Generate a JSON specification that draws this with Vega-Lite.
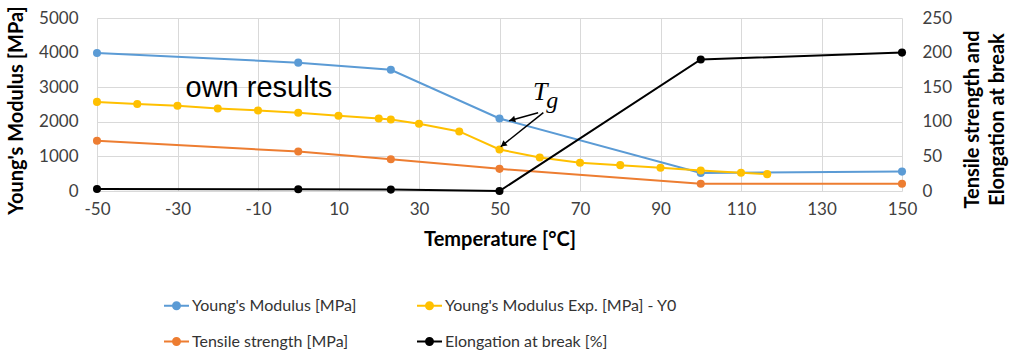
{
  "$schema": "https://vega.github.io/schema/vega-lite/v6.json",
  "width": 805,
  "height": 173,
  "autosize": {"type": "none"},
  "padding": {"left": 97, "top": 18, "right": 107, "bottom": 161},
  "background": "white",
  "config": {
    "font": "Lato",
    "view": {"stroke": null},
    "axis": {
      "labelFont": "Lato",
      "labelFontSize": 17,
      "labelColor": "#404040",
      "labelOverlap": false,
      "labelFlush": false,
      "titleFont": "Lato",
      "titleFontWeight": "bold",
      "titleFontSize": 20,
      "titleColor": "#000000",
      "ticks": false,
      "domain": false,
      "gridColor": "#D9D9D9",
      "gridWidth": 1
    }
  },
  "datasets": {
    "series": [
      {"series": "Young's Modulus [MPa]", "side": "L", "temp": -50, "value": 3990},
      {"series": "Young's Modulus [MPa]", "side": "L", "temp": 0, "value": 3710},
      {"series": "Young's Modulus [MPa]", "side": "L", "temp": 23, "value": 3505},
      {"series": "Young's Modulus [MPa]", "side": "L", "temp": 50, "value": 2095},
      {"series": "Young's Modulus [MPa]", "side": "L", "temp": 100, "value": 520},
      {"series": "Young's Modulus [MPa]", "side": "L", "temp": 150, "value": 560},
      {"series": "Young's Modulus Exp. [MPa] - Y0", "side": "L", "temp": -50, "value": 2575},
      {"series": "Young's Modulus Exp. [MPa] - Y0", "side": "L", "temp": -40, "value": 2512},
      {"series": "Young's Modulus Exp. [MPa] - Y0", "side": "L", "temp": -30, "value": 2464},
      {"series": "Young's Modulus Exp. [MPa] - Y0", "side": "L", "temp": -20, "value": 2387},
      {"series": "Young's Modulus Exp. [MPa] - Y0", "side": "L", "temp": -10, "value": 2329},
      {"series": "Young's Modulus Exp. [MPa] - Y0", "side": "L", "temp": 0, "value": 2261},
      {"series": "Young's Modulus Exp. [MPa] - Y0", "side": "L", "temp": 10, "value": 2175},
      {"series": "Young's Modulus Exp. [MPa] - Y0", "side": "L", "temp": 20, "value": 2097},
      {"series": "Young's Modulus Exp. [MPa] - Y0", "side": "L", "temp": 23, "value": 2068},
      {"series": "Young's Modulus Exp. [MPa] - Y0", "side": "L", "temp": 30, "value": 1943},
      {"series": "Young's Modulus Exp. [MPa] - Y0", "side": "L", "temp": 40, "value": 1721},
      {"series": "Young's Modulus Exp. [MPa] - Y0", "side": "L", "temp": 50, "value": 1200},
      {"series": "Young's Modulus Exp. [MPa] - Y0", "side": "L", "temp": 60, "value": 969},
      {"series": "Young's Modulus Exp. [MPa] - Y0", "side": "L", "temp": 70, "value": 815},
      {"series": "Young's Modulus Exp. [MPa] - Y0", "side": "L", "temp": 80, "value": 747},
      {"series": "Young's Modulus Exp. [MPa] - Y0", "side": "L", "temp": 90, "value": 670},
      {"series": "Young's Modulus Exp. [MPa] - Y0", "side": "L", "temp": 100, "value": 593},
      {"series": "Young's Modulus Exp. [MPa] - Y0", "side": "L", "temp": 110, "value": 526},
      {"series": "Young's Modulus Exp. [MPa] - Y0", "side": "L", "temp": 116.5, "value": 487},
      {"series": "Tensile strength [MPa]", "side": "R", "temp": -50, "value": 72.5},
      {"series": "Tensile strength [MPa]", "side": "R", "temp": 0, "value": 57},
      {"series": "Tensile strength [MPa]", "side": "R", "temp": 23, "value": 46},
      {"series": "Tensile strength [MPa]", "side": "R", "temp": 50, "value": 32},
      {"series": "Tensile strength [MPa]", "side": "R", "temp": 100, "value": 10.5},
      {"series": "Tensile strength [MPa]", "side": "R", "temp": 150, "value": 10.5},
      {"series": "Elongation at break [%]", "side": "R", "temp": -50, "value": 3},
      {"series": "Elongation at break [%]", "side": "R", "temp": 0, "value": 2.5},
      {"series": "Elongation at break [%]", "side": "R", "temp": 23, "value": 2},
      {"series": "Elongation at break [%]", "side": "R", "temp": 50, "value": 0},
      {"series": "Elongation at break [%]", "side": "R", "temp": 100, "value": 190},
      {"series": "Elongation at break [%]", "side": "R", "temp": 150, "value": 200}
    ],
    "arrows": [
      {"id": "a1", "temp": 59.6, "value": 2263, "temp2": 52.4, "value2": 2032},
      {"id": "a2", "temp": 60.9, "value": 2263, "temp2": 50.3, "value2": 1280}
    ],
    "heads": [
      {"id": "a1", "temp": 53.4, "value": 2064},
      {"id": "a2", "temp": 51.1, "value": 1353}
    ],
    "notes": [
      {"id": "own", "text": "own results", "temp": -28, "value": 2720},
      {"id": "T", "text": "T", "temp": 58.3, "value": 2630},
      {"id": "g", "text": "g", "temp": 61.6, "value": 2400}
    ]
  },
  "encoding": {
    "x": {
      "field": "temp", "type": "quantitative",
      "scale": {"domain": [-50, 150], "nice": false, "zero": false},
      "title": "Temperature [°C]",
      "axis": {
        "values": [-50, -30, -10, 10, 30, 50, 70, 90, 110, 130, 150],
        "labelExpr": "'' + datum.value",
        "grid": true,
        "labelPadding": 10,
        "titlePadding": 12
      }
    }
  },
  "layer": [
    {
      "encoding": {
        "y": {
          "field": "value", "type": "quantitative",
          "scale": {"domain": [0, 5000], "nice": false},
          "title": "Young's Modulus [MPa]",
          "axis": {
            "values": [0, 1000, 2000, 3000, 4000, 5000],
            "labelExpr": "'' + datum.value",
            "grid": true,
            "labelPadding": 19,
            "titlePadding": 12,
            "titleY": 92
          }
        }
      },
      "layer": [
        {
          "data": {"name": "series"},
          "transform": [{"filter": "datum.side == 'L'"}],
          "mark": {"type": "line", "strokeWidth": 2, "point": {"filled": true, "size": 65}},
          "encoding": {
            "color": {
              "field": "series", "type": "nominal",
              "scale": {
                "domain": ["Young's Modulus [MPa]", "Young's Modulus Exp. [MPa] - Y0", "Tensile strength [MPa]", "Elongation at break [%]"],
                "range": ["#5B9BD5", "#FFC000", "#ED7D31", "#000000"]
              },
              "legend": {
                "orient": "none",
                "legendX": 66,
                "legendY": 274,
                "columns": 2,
                "direction": "horizontal",
                "title": null,
                "symbolType": "M-1,0H-0.28A0.28,0.28 0 1,1 0.28,0A0.28,0.28 0 1,1 -0.28,0M0.28,0H1",
                "symbolSize": 625,
                "symbolStrokeWidth": 2,
                "labelFont": "Lato",
                "labelFontSize": 16,
                "labelColor": "#333333",
                "labelLimit": 400,
                "labelOffset": 2,
                "columnPadding": 56,
                "rowPadding": 14,
                "encode": {
                  "symbols": {
                    "update": {
                      "fill": {"scale": "color", "field": "value"},
                      "stroke": {"scale": "color", "field": "value"},
                      "opacity": {"value": 1}
                    }
                  }
                }
              }
            }
          }
        },
        {
          "data": {"name": "notes"},
          "transform": [{"filter": "datum.id == 'own'"}],
          "mark": {"type": "text", "font": "Liberation Sans", "fontSize": 29, "align": "left", "baseline": "alphabetic", "color": "#000000"},
          "encoding": {"text": {"field": "text"}}
        },
        {
          "data": {"name": "notes"},
          "transform": [{"filter": "datum.id == 'T'"}],
          "mark": {"type": "text", "font": "Liberation Serif", "fontStyle": "italic", "fontSize": 26, "align": "left", "baseline": "alphabetic", "color": "#000000"},
          "encoding": {"text": {"field": "text"}}
        },
        {
          "data": {"name": "notes"},
          "transform": [{"filter": "datum.id == 'g'"}],
          "mark": {"type": "text", "font": "Liberation Serif", "fontStyle": "italic", "fontSize": 24, "align": "left", "baseline": "alphabetic", "color": "#000000"},
          "encoding": {"text": {"field": "text"}}
        },
        {
          "data": {"name": "arrows"},
          "mark": {"type": "rule", "color": "#000000", "strokeWidth": 1.5},
          "encoding": {
            "x2": {"field": "temp2"},
            "y2": {"field": "value2"}
          }
        },
        {
          "data": {"name": "heads"},
          "transform": [{"filter": "datum.id == 'a1'"}],
          "mark": {"type": "point", "shape": "triangle", "filled": true, "color": "#000000", "size": 45, "angle": 254.6, "opacity": 1}
        },
        {
          "data": {"name": "heads"},
          "transform": [{"filter": "datum.id == 'a2'"}],
          "mark": {"type": "point", "shape": "triangle", "filled": true, "color": "#000000", "size": 45, "angle": 231.4, "opacity": 1}
        }
      ]
    },
    {
      "data": {"name": "series"},
      "transform": [{"filter": "datum.side == 'R'"}],
      "mark": {"type": "line", "strokeWidth": 2, "point": {"filled": true, "size": 65}},
      "encoding": {
        "y": {
          "field": "value", "type": "quantitative",
          "scale": {"domain": [0, 250], "nice": false},
          "title": ["Tensile strength and", "Elongation at break"],
          "axis": {
            "orient": "right",
            "values": [0, 50, 100, 150, 200, 250],
            "grid": false,
            "labelPadding": 20,
            "titleAngle": 270,
            "titleLineHeight": 25,
            "titlePadding": 6,
            "titleY": 101
          }
        },
        "color": {"field": "series", "type": "nominal"}
      }
    }
  ],
  "resolve": {"scale": {"y": "independent"}}
}
